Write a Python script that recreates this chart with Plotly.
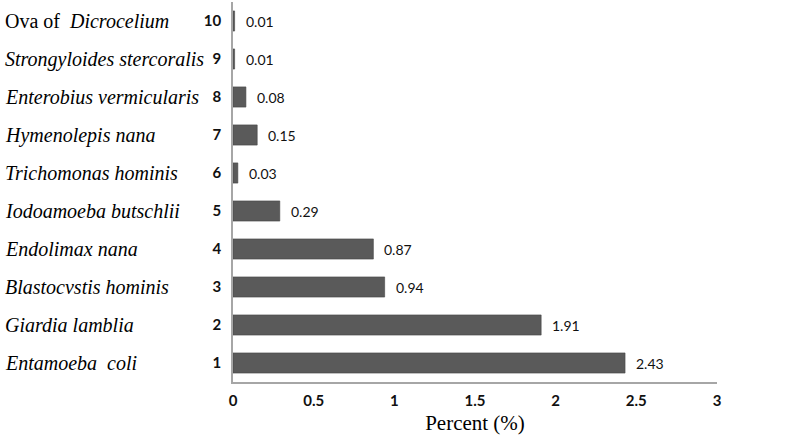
import plotly.graph_objects as go

ranks = [1, 2, 3, 4, 5, 6, 7, 8, 9, 10]
species = ["<i>Entamoeba  coli</i>", "<i>Giardia lamblia</i>", "<i>Blastocvstis hominis</i>",
           "<i>Endolimax nana</i>", "<i>Iodoamoeba butschlii</i>", "<i>Trichomonas hominis</i>",
           "<i>Hymenolepis nana</i>", "<i>Enterobius vermicularis</i>",
           "<i>Strongyloides stercoralis</i>", "Ova of  <i>Dicrocelium</i>"]
values = [2.43, 1.91, 0.94, 0.87, 0.29, 0.03, 0.15, 0.08, 0.01, 0.01]
value_labels = ["2.43", "1.91", "0.94", "0.87", "0.29", "0.03", "0.15", "0.08", "0.01", "0.01"]
xticks = [0, 0.5, 1, 1.5, 2, 2.5, 3]
xtick_labels = ["0", "0.5", "1", "1.5", "2", "2.5", "3"]

W, H = 785, 439
ml, mr, mt, mb = 233, 68, 2, 57
pw = W - ml - mr

fig = go.Figure()
fig.add_trace(go.Bar(
    x=values, y=ranks, orientation="h", width=0.53,
    marker=dict(color="#5a5a5a", line=dict(color="#454545", width=0.6)),
    hoverinfo="skip",
))

annotations = []
for r, v, t in zip(ranks, values, value_labels):
    annotations.append(dict(x=v, y=r, xref="x", yref="y", text=t, showarrow=False,
                            xanchor="left", xshift=9,
                            font=dict(family="Lato", size=14, color="#111")))
for r, s in zip(ranks, species):
    annotations.append(dict(x=(3 - ml) / pw, y=r, xref="paper", yref="y", text=s,
                            showarrow=False, xanchor="left",
                            font=dict(family="Liberation Serif", size=20, color="#000")))

fig.update_layout(
    width=W, height=H,
    margin=dict(l=ml, r=mr, t=mt, b=mb, autoexpand=False),
    plot_bgcolor="white", paper_bgcolor="white",
    showlegend=False,
    annotations=annotations,
    xaxis=dict(range=[0, 3], tickvals=xticks, ticktext=["<b>%s</b>" % t for t in xtick_labels],
               showgrid=False, zeroline=False, showline=True, linecolor="#a6a6a6", linewidth=1.5,
               ticks="", ticklabelstandoff=4,
               tickfont=dict(family="Lato", size=15, color="#111"),
               title=dict(text="Percent (%)", standoff=8,
                          font=dict(family="Liberation Serif", size=21, color="#000"))),
    yaxis=dict(range=[0.5, 10.5], tickvals=ranks, ticktext=["<b>%d</b>" % r for r in ranks],
               showgrid=False, zeroline=False, showline=True, linecolor="#a6a6a6", linewidth=1.5,
               ticks="", ticklabelstandoff=7,
               tickfont=dict(family="Lato", size=15, color="#111")),
)

fig.write_html("out.html", config={"displayModeBar": False},
               post_script="document.body.style.margin='0';")
